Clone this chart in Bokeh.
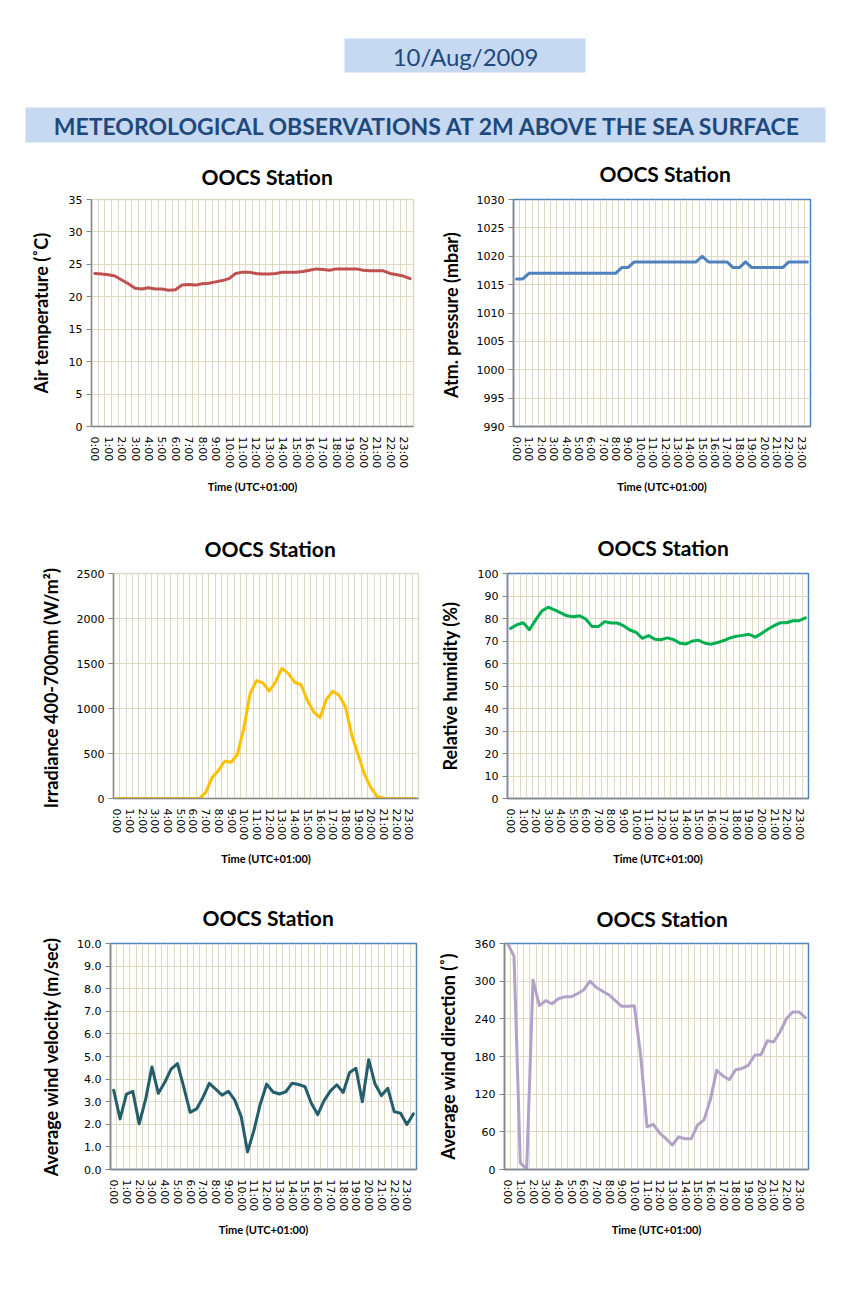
from bokeh.plotting import figure
from bokeh.layouts import column, row
from bokeh.models import Range1d, FixedTicker, PrintfTickFormatter, ColumnDataSource
from bokeh.core.properties import value
from bokeh.embed import file_html
from bokeh.resources import INLINE

# ---------------- data ----------------
date_text = "10/Aug/2009"
main_title = "METEOROLOGICAL OBSERVATIONS AT 2M ABOVE THE SEA SURFACE"
station_title = "OOCS Station"
x_title = "Time (UTC+01:00)"

times = ["0:00", "0:30", "1:00", "1:30", "2:00", "2:30", "3:00", "3:30",
         "4:00", "4:30", "5:00", "5:30", "6:00", "6:30", "7:00", "7:30",
         "8:00", "8:30", "9:00", "9:30", "10:00", "10:30", "11:00", "11:30",
         "12:00", "12:30", "13:00", "13:30", "14:00", "14:30", "15:00", "15:30",
         "16:00", "16:30", "17:00", "17:30", "18:00", "18:30", "19:00", "19:30",
         "20:00", "20:30", "21:00", "21:30", "22:00", "22:30", "23:00", "23:30"]

air_temperature = [23.6, 23.5, 23.4, 23.2, 22.6, 22.0, 21.3, 21.2, 21.4, 21.2, 21.2, 21.0,
                   21.1, 21.8, 21.9, 21.8, 22.0, 22.1, 22.3, 22.5, 22.8, 23.6, 23.8, 23.8,
                   23.6, 23.5, 23.5, 23.6, 23.8, 23.8, 23.8, 23.9, 24.1, 24.3, 24.2, 24.1,
                   24.3, 24.3, 24.3, 24.3, 24.1, 24.0, 24.0, 24.0, 23.6, 23.4, 23.2, 22.8]

atm_pressure = [1016, 1016, 1017, 1017, 1017, 1017, 1017, 1017, 1017, 1017, 1017, 1017,
                1017, 1017, 1017, 1017, 1017, 1018, 1018, 1019, 1019, 1019, 1019, 1019,
                1019, 1019, 1019, 1019, 1019, 1019, 1020, 1019, 1019, 1019, 1019, 1018,
                1018, 1019, 1018, 1018, 1018, 1018, 1018, 1018, 1019, 1019, 1019, 1019]

irradiance = [0, 0, 0, 0, 0, 0, 0, 0, 0, 0, 0, 0,
              0, 0, 65, 230, 311, 414, 403, 487, 780, 1164, 1310, 1285,
              1193, 1292, 1446, 1391, 1292, 1266, 1091, 963, 897, 1102, 1193, 1146,
              1018, 706, 487, 267, 121, 22, 4, 0, 0, 0, 0, 0]

rel_humidity = [75.6, 77.2, 78.1, 75.0, 79.4, 83.4, 85.0, 83.8, 82.5, 81.2, 80.8, 81.2,
                79.7, 76.4, 76.4, 78.6, 78.0, 78.0, 76.8, 74.9, 73.9, 71.2, 72.4, 70.8,
                70.6, 71.4, 70.6, 69.0, 68.7, 70.0, 70.3, 69.0, 68.6, 69.3, 70.2, 71.4,
                72.1, 72.5, 73.0, 71.7, 73.3, 75.2, 76.8, 78.1, 78.1, 79.0, 79.0, 80.3]

wind_velocity = [3.51, 2.24, 3.34, 3.46, 2.02, 3.09, 4.54, 3.37, 3.85, 4.44, 4.69, 3.63,
                 2.53, 2.68, 3.19, 3.81, 3.56, 3.29, 3.46, 3.07, 2.34, 0.78, 1.73, 2.90,
                 3.78, 3.43, 3.34, 3.44, 3.82, 3.76, 3.67, 2.93, 2.43, 3.05, 3.48, 3.75,
                 3.41, 4.29, 4.48, 3.00, 4.86, 3.78, 3.27, 3.59, 2.56, 2.49, 1.99, 2.46]

wind_direction = [360, 340, 10, 1, 302, 261, 269, 264, 272, 275, 275, 280,
                  286, 300, 290, 284, 278, 269, 260, 260, 261, 182, 68, 72,
                  58, 49, 39, 52, 49, 49, 71, 79, 111, 158, 149, 143,
                  159, 161, 166, 182, 183, 205, 203, 219, 240, 251, 251, 242]

temp_ticks = [0, 5, 10, 15, 20, 25, 30, 35]
pressure_ticks = [990, 995, 1000, 1005, 1010, 1015, 1020, 1025, 1030]
irradiance_ticks = [0, 500, 1000, 1500, 2000, 2500]
humidity_ticks = [0, 10, 20, 30, 40, 50, 60, 70, 80, 90, 100]
velocity_ticks = [0, 1, 2, 3, 4, 5, 6, 7, 8, 9, 10]
direction_ticks = [0, 60, 120, 180, 240, 300, 360]

# ---------------- style ----------------
GRID = "#DDD9C3"
AXIS = "#868686"
BLUE_FRAME = "#4F81BD"
TITLE_FONT = "Lato"
TICK_FONT = "DejaVu Sans"
HEAD_COLOR = "#1F497D"
HEAD_FILL = "#C6D9F1"
PAGE_W = 850
LEFT_W = 425
RIGHT_W = 420

x_idx = list(range(len(times)))


def make_chart(vals, color, ylabel, yticks, fmt, outline, w, h, ml, mr, mt, mb,
               title_left, title_standoff, ystand):
    p = figure(width=w, height=h, output_backend="svg", toolbar_location=None,
               x_range=Range1d(-0.5, len(times) - 0.5),
               y_range=Range1d(yticks[0], yticks[-1]),
               min_border_left=ml, min_border_right=mr,
               min_border_top=mt, min_border_bottom=mb,
               background_fill_color="white", border_fill_color="white",
               outline_line_color=outline, outline_line_width=1.5)
    p.title.text = station_title
    p.title.align = "left"
    p.title.offset = title_left
    p.title.standoff = title_standoff
    p.title.text_font = TITLE_FONT
    p.title.text_font_size = "21px"
    p.title.text_font_style = "bold"
    p.title.text_color = "black"

    # x axis
    xa = p.xaxis[0]
    xa.ticker = FixedTicker(ticks=[x_idx[i] for i in range(0, len(times), 2)])
    xa.major_label_overrides = {x_idx[i]: times[i] for i in range(0, len(times), 2)}
    xa.major_label_orientation = "vertical"
    xa.major_label_text_font = TICK_FONT
    xa.major_label_text_font_size = "11px"
    xa.major_label_text_color = "black"
    xa.major_label_standoff = 4
    xa.major_tick_line_color = None
    xa.minor_tick_line_color = None
    xa.axis_line_color = AXIS
    xa.axis_line_width = 1.5
    xa.axis_label = x_title
    xa.axis_label_text_font = TITLE_FONT
    xa.axis_label_text_font_size = "11px"
    xa.axis_label_text_font_style = "bold"
    xa.axis_label_text_color = "black"
    xa.axis_label_standoff = 9

    # y axis
    ya = p.yaxis[0]
    ya.ticker = FixedTicker(ticks=yticks)
    if fmt:
        ya.formatter = PrintfTickFormatter(format=fmt)
    ya.major_label_text_font = TICK_FONT
    ya.major_label_text_font_size = "11px"
    ya.major_label_text_color = "black"
    ya.major_label_standoff = 4
    ya.major_tick_out = 5
    ya.major_tick_in = 0
    ya.major_tick_line_color = AXIS
    ya.minor_tick_line_color = None
    ya.axis_line_color = AXIS
    ya.axis_line_width = 1.5
    ya.axis_label = ylabel
    ya.axis_label_text_font = TITLE_FONT
    ya.axis_label_text_font_size = "18px"
    ya.axis_label_text_font_style = "bold"
    ya.axis_label_text_color = "black"
    ya.axis_label_standoff = ystand

    # grids
    p.xgrid.ticker = FixedTicker(ticks=[i - 0.5 for i in range(len(times) + 1)])
    p.xgrid.grid_line_color = GRID
    p.xgrid.grid_line_width = 1
    p.ygrid.grid_line_color = GRID
    p.ygrid.grid_line_width = 1

    src = ColumnDataSource(dict(x=x_idx, y=vals))
    p.line(x="x", y="y", source=src, line_color=color, line_width=3,
           line_join="round", line_cap="round")
    return p


# ---------------- header ----------------
HEAD_H = 145
hdr = figure(width=PAGE_W, height=HEAD_H, output_backend="svg", toolbar_location=None,
             x_range=Range1d(0, PAGE_W), y_range=Range1d(HEAD_H, 0),
             x_axis_type=None, y_axis_type=None, min_border=0,
             outline_line_color=None, background_fill_color="white",
             border_fill_color="white")
hdr.grid.visible = False
hdr.quad(left=[344, 25], right=[585, 825], top=[38, 107], bottom=[72, 142],
         fill_color=HEAD_FILL, line_color=None)
hdr.text(x=[465], y=[56], text=[date_text], text_font=value(TITLE_FONT),
         text_font_size="24px", text_color=HEAD_COLOR, text_align="center",
         text_baseline="middle")
hdr.text(x=[428], y=[125], text=[main_title], text_font=value(TITLE_FONT),
         text_font_size="23px", text_font_style="bold", text_color=HEAD_COLOR,
         text_align="center", text_baseline="middle")

# ---------------- charts ----------------
c1 = make_chart(air_temperature, "#C0504D", "Air temperature (\u02daC)", temp_ticks, None,
                GRID, LEFT_W, 367, 91, 12, 54, 86, 110, 21, 14)
c2 = make_chart(atm_pressure, "#4F81BD", "Atm. pressure  (mbar)", pressure_ticks, None,
                BLUE_FRAME, RIGHT_W, 367, 88, 35, 54, 85, 86, 27, 12)
c3 = make_chart(irradiance, "#FFC000", "Irradiance 400-700nm  (W/m\u00b2)", irradiance_ticks, None,
                GRID, LEFT_W, 370, 113, 7, 61, 81, 91, 25, 12)
c4 = make_chart(rel_humidity, "#00B050", "Relative humidity (%)", humidity_ticks, None,
                BLUE_FRAME, RIGHT_W, 370, 82, 37, 59, 84, 90, 27, 14)
c5 = make_chart(wind_velocity, "#245E6A", "Average wind velocity (m/sec)", velocity_ticks, "%.1f",
                BLUE_FRAME, LEFT_W, 378, 110, 9, 60, 91, 92, 27, 12)
c6 = make_chart(wind_direction, "#B3A2C7", "Average wind direction (\u02da)", direction_ticks, None,
                BLUE_FRAME, RIGHT_W, 378, 79, 37, 61, 90, 92, 25, 13)

layout = column(hdr, row(c1, c2), row(c3, c4), row(c5, c6))

with open("out.html", "w") as f:
    f.write(file_html(layout, INLINE))
